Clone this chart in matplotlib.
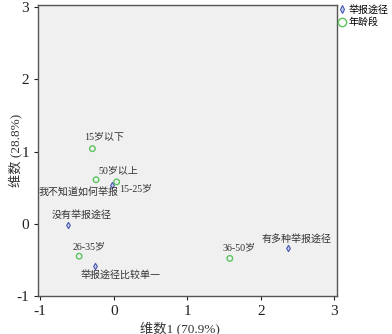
import matplotlib
matplotlib.use("Agg")
import matplotlib.pyplot as plt
from matplotlib.lines import Line2D

plt.rcParams['font.family'] = ['Liberation Serif', 'Noto Sans CJK SC']
plt.rcParams['axes.unicode_minus'] = False

# Category points: reporting channels
report_labels = ["我不知道如何举报", "没有举报途径", "举报途径比较单一", "有多种举报途径"]
report_x = [-0.03, -0.62, -0.25, 2.37]
report_y = [0.54, -0.02, -0.58, -0.34]

# Category points: age groups
age_labels = ["15岁以下", "50岁以上", "15-25岁", "26-35岁", "36-50岁"]
age_x = [-0.29, -0.24, 0.04, -0.47, 1.58]
age_y = [1.04, 0.61, 0.58, -0.45, -0.48]

x_ticks = [-1, 0, 1, 2, 3]
y_ticks = [-1, 0, 1, 2, 3]

fig = plt.figure(figsize=(3.92, 3.34), dpi=100)
ax = fig.add_axes([0.097, 0.114, 0.763, 0.871])
ax.set_facecolor('#f0f0f0')

blue = '#4858b0'
green = '#5cc560'

ax.scatter(report_x, report_y, marker='d', s=10, facecolors='#c8d0f0',
           edgecolors=blue, linewidths=0.8, zorder=3)
ax.scatter(age_x, age_y, marker='o', s=16, facecolors='none',
           edgecolors=green, linewidths=1.0, zorder=3)

# label offsets in pixels from each point (dx right, dy up), text centred
report_off = [(-33, -8), (14, 10), (25, -9), (9, 9)]
age_off = [(12, 11), (22, 9), (19, -7), (10, 9), (9, 10)]

for lbl, x, y, (dx, dy) in zip(report_labels, report_x, report_y, report_off):
    ax.annotate(lbl, (x, y), xytext=(dx, dy), textcoords='offset pixels',
                ha='center', va='center', fontsize=7.2, color='#333333')
for lbl, x, y, (dx, dy) in zip(age_labels, age_x, age_y, age_off):
    ax.annotate(lbl, (x, y), xytext=(dx, dy), textcoords='offset pixels',
                ha='center', va='center', fontsize=7.2, color='#333333')

ax.set_xlim(-1.03, 3.04)
ax.set_ylim(-1.0, 3.03)
ax.set_xticks(x_ticks)
ax.set_yticks(y_ticks)
ax.tick_params(direction='out', length=3, width=0.8, labelsize=11, colors='#222222')
for s in ax.spines.values():
    s.set_color('#555555')
    s.set_linewidth(1.0)

ax.set_xlabel("维数1 (70.9%)", fontsize=9.5, color='#333333')
ax.set_ylabel("维数 (28.8%)", fontsize=9.5, color='#333333')
ax.xaxis.set_label_coords(0.475, -0.086)
ax.yaxis.set_label_coords(-0.054, 0.5)

handles = [
    Line2D([], [], marker='d', linestyle='none', markersize=4,
           markerfacecolor='#c8d0f0', markeredgecolor=blue, markeredgewidth=0.8),
    Line2D([], [], marker='o', linestyle='none', markersize=6,
           markerfacecolor='none', markeredgecolor=green, markeredgewidth=1.0),
]
fig.legend(handles, ["举报途径", "年龄段"], loc='upper left',
           bbox_to_anchor=(0.862, 0.988), frameon=False, fontsize=7.2,
           handlelength=0.6, handletextpad=0.4, borderpad=0.1,
           labelspacing=0.25, borderaxespad=0)

fig.savefig("out.png", dpi=100)
